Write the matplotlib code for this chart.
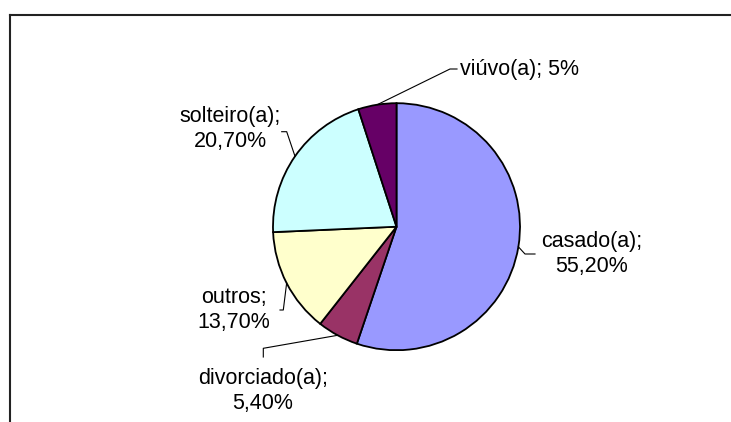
import numpy as np
import matplotlib
matplotlib.use('Agg')
import matplotlib.pyplot as plt

#%% Data
categorias = ['casado(a)', 'divorciado(a)', 'outros', 'solteiro(a)', 'viúvo(a)']
percentuais = [55.2, 5.4, 13.7, 20.7, 5.0]
rotulos_pct = ['55,20%', '5,40%', '13,70%', '20,70%', '5%']
cores = ['#9999FF', '#993366', '#FFFFCC', '#CCFFFF', '#660066']

#%% Layout (pixel coords, y from top)
W, H = 731, 422
cx, cy, r = 396.5, 226.7, 123.5
# text position, alignment, joiner (' ' or newline), leader elbow points
layout = {
    'casado(a)':     dict(xy=(592, 254), ha='center', sep='\n', elbow=[(525, 254), (535, 254)]),
    'divorciado(a)': dict(xy=(263, 391), ha='center', sep='\n', elbow=[(263.3, 348.3), (263.3, 357)]),
    'outros':        dict(xy=(234, 310), ha='center', sep='\n', elbow=[(283.3, 310), (280, 310)]),
    'solteiro(a)':   dict(xy=(230, 129), ha='center', sep='\n', elbow=[(286.7, 131.7), (281.7, 131.7)]),
    'viúvo(a)':      dict(xy=(460, 70), ha='left', sep=' ', elbow=[(450, 69), (457, 69)]),
}

plt.rcParams['font.family'] = ['Liberation Sans', 'DejaVu Sans']

fig = plt.figure(figsize=(W / 100, H / 100), dpi=100)
ax = fig.add_axes([0, 0, 1, 1])

def py(y):
    return H - y

#%% Pie
ax.pie(percentuais, colors=cores, startangle=90, counterclock=False,
       center=(cx, py(cy)), radius=r, frame=True,
       wedgeprops=dict(edgecolor='black', linewidth=1.3))
ax.set_xlim(0, W)
ax.set_ylim(0, H)
ax.axis('off')

#%% Labels with leader lines
acum = np.cumsum([0] + percentuais)
for i, cat in enumerate(categorias):
    meio = (acum[i] + acum[i + 1]) / 2 / 100 * 2 * np.pi
    ax_x = cx + r * np.sin(meio)
    ax_y = cy - r * np.cos(meio)
    pts = [(ax_x, ax_y)] + layout[cat]['elbow']
    ax.plot([p[0] for p in pts], [py(p[1]) for p in pts], color='black', lw=0.8)
    tx, ty = layout[cat]['xy']
    ax.text(tx, py(ty), cat + ';' + layout[cat]['sep'] + rotulos_pct[i],
            ha=layout[cat]['ha'], va='center', fontsize=15.5, linespacing=1.3)

#%% Frame (top and left only visible)
ax.plot([10, W], [py(15), py(15)], color='#222222', lw=1.5, clip_on=False)
ax.plot([10, 10], [py(15), 0], color='#222222', lw=1.5, clip_on=False)

fig.savefig('out.png', dpi=100)
